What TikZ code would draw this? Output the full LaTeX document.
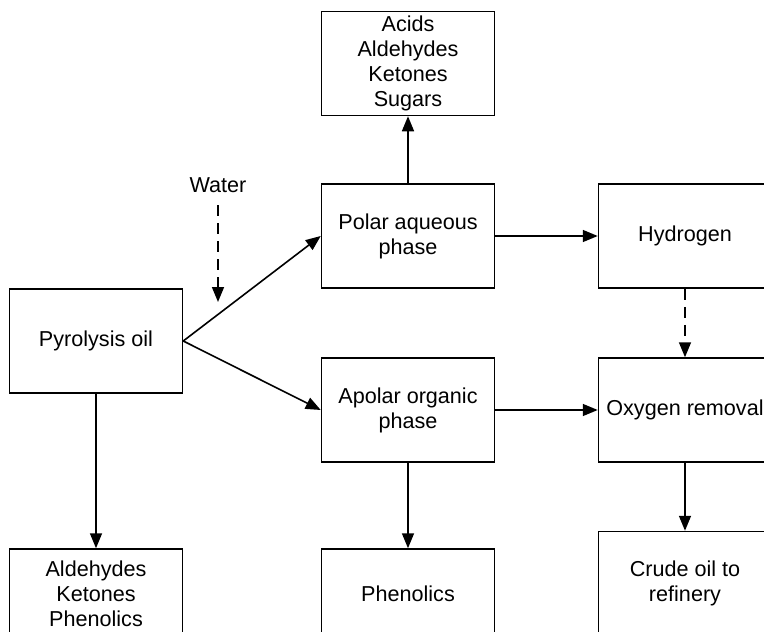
\documentclass[tikz,border=0pt]{standalone}
\usepackage{fontspec}
\setmainfont{Liberation Sans}
\usetikzlibrary{arrows.meta}
\begin{document}
\begin{tikzpicture}[x=1pt,y=-1pt,
  box/.style={draw,line width=1.5pt,minimum width=173pt,minimum height=104pt,align=center,inner sep=0pt,font=\fontsize{21.6}{25}\selectfont},
  lbl/.style={font=\fontsize{21.6}{25}\selectfont,inner sep=0pt},
  conn/.style={line width=1.6pt,-{Triangle[length=15pt,width=12pt]}},
  dconn/.style={conn,dash pattern=on 11pt off 7pt}]
\useasboundingbox (0,0) rectangle (764,632);
\clip (0,0) rectangle (764,632);
\node[box] (pyro) at (96,341) {Pyrolysis oil};
\node[box] (acids) at (408,63.5) {Acids\\Aldehydes\\Ketones\\Sugars};
\node[box] (polar) at (408,236) {Polar aqueous\\phase};
\node[box] (hydro) at (685,236) {Hydrogen};
\node[box] (apolar) at (408,410) {Apolar organic\\phase};
\node[box] (oxy) at (685,410) {Oxygen removal};
\node[box,minimum height=90pt] (ald) at (96,594) {Aldehydes\\Ketones\\Phenolics};
\node[box,minimum height=90pt] (phen) at (408,594) {Phenolics};
\node[box] (crude) at (685,583.5) {Crude oil to\\refinery};
\node[lbl] (water) at (218,185) {Water};
\coordinate (wstart) at (218,205);
\coordinate (wend) at (218,302);
\draw[dconn] (wstart) -- (wend);
\draw[conn] (pyro.east) -- (polar.west);
\draw[conn] (pyro.east) -- (apolar.west);
\draw[conn] (polar.north) -- (acids.south);
\draw[conn] (polar.east) -- (hydro.west);
\draw[dconn] (hydro.south) -- (oxy.north);
\draw[conn] (apolar.east) -- (oxy.west);
\draw[conn] (apolar.south) -- (phen.north);
\draw[conn] (oxy.south) -- (crude.north);
\draw[conn] (pyro.south) -- (ald.north);
\end{tikzpicture}
\end{document}
